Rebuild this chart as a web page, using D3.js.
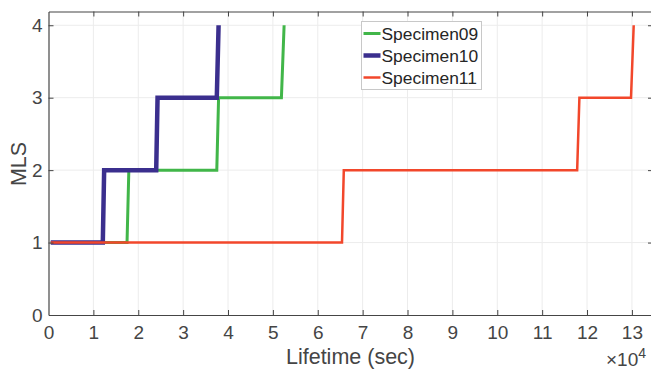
<!DOCTYPE html>
<html>
<head>
<meta charset="utf-8">
<script src="https://cdn.jsdelivr.net/npm/d3@7"></script>
<style>
  body { margin: 0; background: #fff; }
  svg { display: block; font-family: "Liberation Sans", Arial, sans-serif; }
</style>
</head>
<body>
<div id="vis"></div>
<script>
const width = 651;
const height = 371;

// lifetime in seconds, MLS level
const spec09 = [[500, 1], [17500, 1], [17900, 2], [37500, 2], [37900, 3], [51900, 3], [52500, 4]];
const spec10 = [[500, 1], [12100, 1], [12400, 2], [24000, 2], [24300, 3], [37500, 3], [37900, 4]];
const spec11 = [[500, 1], [65400, 1], [65800, 2], [117800, 2], [118300, 3], [129800, 3], [130400, 4]];

const seriesNames = ["Specimen09", "Specimen10", "Specimen11"];
const seriesColors = ["#41b649", "#3b2f8e", "#f2472b"];
const seriesWidths = [3, 4.5, 2.5];

const xTicks = d3.range(0, 14);
const yTicks = [0, 1, 2, 3, 4];

const margin = { left: 48.5, top: 11.5, right: 653, bottom: 315 };

const svg = d3.select("#vis").append("svg")
  .attr("width", width).attr("height", height);

// x in units of 1e4 sec
const x = d3.scaleLinear().domain([0, 13.47]).range([margin.left, margin.right]);
const y = d3.scaleLinear().domain([0, 4.19]).range([margin.bottom, margin.top]);

// grid
svg.append("g").selectAll("line").data(xTicks.slice(1)).enter().append("line")
  .attr("x1", d => x(d)).attr("x2", d => x(d))
  .attr("y1", margin.top).attr("y2", margin.bottom)
  .attr("stroke", "#ececec").attr("stroke-width", 1);
svg.append("g").selectAll("line").data(yTicks.slice(1)).enter().append("line")
  .attr("x1", margin.left).attr("x2", margin.right)
  .attr("y1", d => y(d)).attr("y2", d => y(d))
  .attr("stroke", "#ececec").attr("stroke-width", 1);

// lines
const line = d3.line().x(d => x(d[0] / 1e4)).y(d => y(d[1]));
[spec09, spec10, spec11].forEach((s, i) => {
  svg.append("path")
    .datum(s)
    .attr("d", line)
    .attr("fill", "none")
    .attr("stroke", seriesColors[i])
    .attr("stroke-width", seriesWidths[i])
    .attr("stroke-linejoin", "miter");
});

// axes
const axisColor = "#454545";
const xAxis = svg.append("g")
  .attr("transform", `translate(0,${margin.bottom})`)
  .call(d3.axisBottom(x).tickValues(xTicks).tickFormat(d3.format("d")).tickSizeInner(-5).tickSizeOuter(0).tickPadding(11));
const xTop = svg.append("g")
  .attr("transform", `translate(0,${margin.top})`)
  .call(d3.axisTop(x).tickValues(xTicks.slice(1)).tickFormat("").tickSizeInner(-5).tickSizeOuter(0));
const yAxis = svg.append("g")
  .attr("transform", `translate(${margin.left},0)`)
  .call(d3.axisLeft(y).tickValues(yTicks).tickFormat(d3.format("d")).tickSizeInner(-5).tickSizeOuter(0).tickPadding(6));
const yRight = svg.append("g")
  .attr("transform", `translate(${margin.right},0)`)
  .call(d3.axisRight(y).tickValues(yTicks.slice(1)).tickFormat("").tickSizeInner(-5).tickSizeOuter(0));

[xAxis, xTop, yAxis, yRight].forEach(g => {
  g.attr("font-size", null).attr("font-family", null);
  g.select(".domain").attr("stroke", axisColor).attr("stroke-width", 1.2);
  g.selectAll(".tick line").attr("stroke", axisColor);
  g.selectAll("text").attr("fill", axisColor).style("font-size", "19px");
});
xAxis.selectAll(".tick").filter(d => d === 0).select("line").remove();
yAxis.selectAll(".tick").filter(d => d === 0).select("line").remove();

// axis labels
svg.append("text")
  .attr("x", 350.5).attr("y", 364)
  .attr("text-anchor", "middle")
  .attr("fill", axisColor)
  .style("font-size", "21.5px")
  .text("Lifetime (sec)");

svg.append("text")
  .attr("transform", "translate(26,164) rotate(-90)")
  .attr("text-anchor", "middle")
  .attr("fill", axisColor)
  .style("font-size", "21.5px")
  .text("MLS");

const exp = svg.append("text")
  .attr("x", 606).attr("y", 366)
  .attr("fill", axisColor)
  .style("font-size", "19px");
exp.append("tspan").text("×10");
exp.append("tspan").attr("dy", -8).style("font-size", "14px").text("4");

// legend
const legend = svg.append("g").attr("transform", "translate(361.5,21.5)");
legend.append("rect")
  .attr("width", 120).attr("height", 68)
  .attr("fill", "#fff").attr("stroke", "#c8c8c8").attr("stroke-width", 1);
seriesNames.forEach((name, i) => {
  const yy = 12 + i * 22;
  legend.append("line")
    .attr("x1", 2).attr("x2", 19).attr("y1", yy).attr("y2", yy)
    .attr("stroke", seriesColors[i]).attr("stroke-width", seriesWidths[i]);
  legend.append("text")
    .attr("x", 20).attr("y", yy + 6.5)
    .attr("fill", "#262626")
    .style("font-size", "17.4px")
    .text(name);
});
</script>
</body>
</html>
